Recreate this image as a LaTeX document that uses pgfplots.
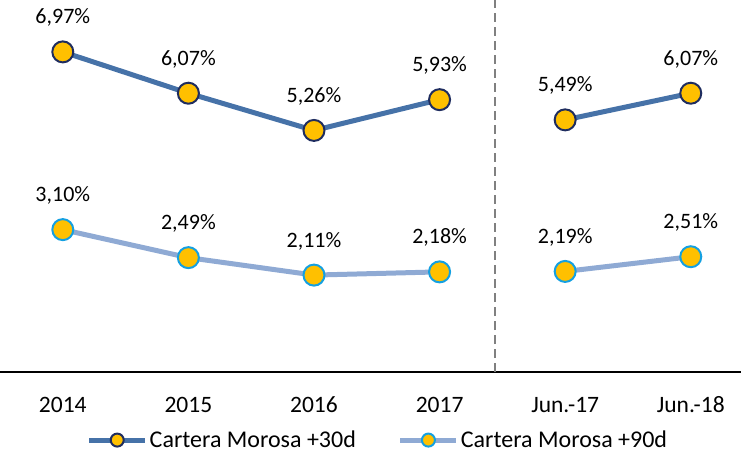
\documentclass[border=0pt]{standalone}
\usepackage{pgfplots}
\pgfplotsset{compat=1.18}
\usepackage{fontspec}
\setmainfont{Carlito}
\definecolor{darkline}{RGB}{70,114,168}
\definecolor{lightline}{RGB}{143,170,212}
\definecolor{markfill}{RGB}{255,192,0}
\definecolor{darkedge}{RGB}{31,45,95}
\definecolor{lightedge}{RGB}{20,160,225}
\begin{document}
\begin{tikzpicture}
\begin{axis}[
    scale only axis,
    width=741pt, height=372pt,
    xmin=-0.5, xmax=5.4,
    ymin=0, ymax=8.1,
    axis x line*=bottom,
    axis y line=none,
    x axis line style={line width=2pt, black},
    xtick={0,1,2,3,4,5},
    xticklabels={2014,2015,2016,2017,Jun.-17,Jun.-18},
    major tick length=0pt,
    xticklabel style={anchor=base, yshift=-40pt, font=\fontsize{23.5}{26}\selectfont},
    clip=false,
    point meta=explicit symbolic,
    nodes near coords,
    nodes near coords style={anchor=base, yshift=28pt, font=\fontsize{22}{24}\selectfont, text=black},
    legend style={at={(0.51,-0.183)}, anchor=center, draw=none, fill=none,
        legend columns=2, font=\fontsize{24}{26}\selectfont,
        /tikz/every even column/.append style={column sep=40pt}},
    legend image code/.code={\draw[mark repeat=2,mark phase=2,#1,mark size=6.5pt]
        plot coordinates {(0pt,0pt)(28pt,0pt)(56pt,0pt)};},
]
\addplot[forget plot, gray, line width=2pt, dash pattern=on 9pt off 5pt, nodes near coords={}]
    coordinates {(3.44,0)(3.44,8.1)};
\addplot[darkline, line width=5pt, mark=*, mark size=10.5pt,
    mark options={fill=markfill, draw=darkedge, line width=2pt}]
    coordinates {(0,6.97)[6,97\%] (1,6.07)[6,07\%] (2,5.26)[5,26\%] (3,5.93)[5,93\%]};
\addlegendentry{Cartera Morosa +30d}
\addplot[forget plot, darkline, line width=5pt, mark=*, mark size=10.5pt,
    mark options={fill=markfill, draw=darkedge, line width=2pt}]
    coordinates {(4,5.49)[5,49\%] (5,6.07)[6,07\%]};
\addplot[lightline, line width=5pt, mark=*, mark size=10.5pt,
    mark options={fill=markfill, draw=lightedge, line width=2pt}]
    coordinates {(0,3.10)[3,10\%] (1,2.49)[2,49\%] (2,2.11)[2,11\%] (3,2.18)[2,18\%]};
\addlegendentry{Cartera Morosa +90d}
\addplot[forget plot, lightline, line width=5pt, mark=*, mark size=10.5pt,
    mark options={fill=markfill, draw=lightedge, line width=2pt}]
    coordinates {(4,2.19)[2,19\%] (5,2.51)[2,51\%]};
\end{axis}
\pgfresetboundingbox
\path (current axis.south west) ++(0,-82pt) rectangle (current axis.north east);
\end{tikzpicture}
\end{document}
